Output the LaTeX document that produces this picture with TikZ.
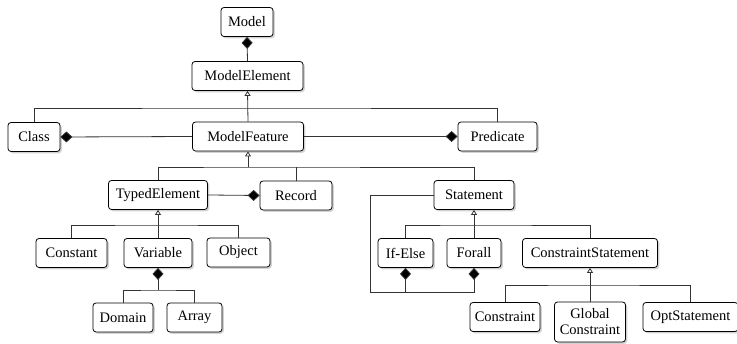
\documentclass[tikz,border=0pt]{standalone}
\usepackage{fontspec}
\setmainfont{Liberation Serif}
\usepackage{tikz}
\usetikzlibrary{positioning,arrows.meta,calc,shadows}
\usepackage{xcolor}

\begin{document}
\begin{tikzpicture}[x=1pt,y=-1pt,
  cls/.style={draw,rounded corners=3pt,fill=white,line width=0.8pt,minimum height=29pt,inner sep=2pt,
    font=\fontsize{14.5}{15}\selectfont,align=center,
    drop shadow={shadow xshift=1.8pt,shadow yshift=-1.8pt,fill=black!35}},
  link/.style={draw=black!80,line width=0.8pt},
  comp/.style={link,-{Diamond[length=12pt,width=11pt,fill=black]}},
  gen/.style={link,-{Triangle[open,length=5pt,width=6pt,fill=white]}}]
\useasboundingbox (0,0) rectangle (737,344);
% classes
\node[cls,minimum width=52pt] (Model) at (247,22) {Model};
\node[cls,minimum width=111pt] (ModelElement) at (247.5,76) {ModelElement};
\node[cls,minimum width=52pt] (Class) at (34,137) {Class};
\node[cls,minimum width=111pt] (ModelFeature) at (248,136.5) {ModelFeature};
\node[cls,minimum width=79pt] (Predicate) at (497.5,136.5) {Predicate};
\node[cls,minimum width=99pt] (TypedElement) at (158,195) {TypedElement};
\node[cls,minimum width=72pt] (Record) at (296,195.5) {Record};
\node[cls,minimum width=80pt] (Statement) at (474,195) {Statement};
\node[cls,minimum width=71pt] (Constant) at (71.5,253) {Constant};
\node[cls,minimum width=68pt] (Variable) at (158,253) {Variable};
\node[cls,minimum width=63pt] (Object) at (238.5,252.5) {Object};
\node[cls,minimum width=60pt] (Domain) at (123,317.5) {Domain};
\node[cls,minimum width=55pt] (Array) at (194.5,317.5) {Array};
\node[cls,minimum width=55pt] (IfElse) at (405.5,253) {If-Else};
\node[cls,minimum width=54pt] (Forall) at (474,253) {Forall};
\node[cls,minimum width=135pt] (ConstraintStatement) at (590,253) {ConstraintStatement};
\node[cls,minimum width=70pt] (Constraint) at (505,317) {Constraint};
\node[cls,minimum width=71pt,minimum height=40pt,inner sep=1pt,font=\fontsize{14.5}{16}\selectfont] (GlobalConstraint) at (590,322) {Global\\Constraint};
\node[cls,minimum width=95pt] (OptStatement) at (690.5,317) {OptStatement};
% junctions
\coordinate (bar1) at (247.5,108);
\coordinate (bar2) at (248,167);
\coordinate (bar3) at (158,225);
\coordinate (bar4) at (158,290);
\coordinate (bar5) at (474,225);
\coordinate (bar6) at (590,285);
\coordinate (loop) at (370,292);
% composition
\draw[comp] (ModelElement.north) -- (Model.south);
\draw[comp] (ModelFeature.west) -- (Class.east);
\draw[comp] (ModelFeature.east) -- (Predicate.west);
\draw[comp] (TypedElement.east) -- (Record.west);
\draw[comp] (bar4) -- (Variable.south);
\draw[link] (Domain.north) |- (bar4) -| (Array.north);
\draw[comp] (Statement.west) -| (loop) -| (Forall.south);
\draw[comp] (IfElse.south |- loop) -- (IfElse.south);
% generalization
\draw[link] (Class.north) |- (bar1) -| (Predicate.north);
\draw[gen] (ModelFeature.north) -- (ModelElement.south);
\draw[link] (TypedElement.north) |- (bar2) -| (Statement.north);
\draw[link] (Record.north) -- (Record.north |- bar2);
\draw[gen] (bar2) -- (ModelFeature.south);
\draw[link] (Constant.north) |- (bar3) -| (Object.north);
\draw[gen] (Variable.north) -- (TypedElement.south);
\draw[link] (IfElse.north) |- (bar5) -| (ConstraintStatement.north);
\draw[gen] (Forall.north) -- (Statement.south);
\draw[link] (Constraint.north) |- (bar6) -| (OptStatement.north);
\draw[gen] (GlobalConstraint.north) -- (ConstraintStatement.south);
\end{tikzpicture}
\end{document}
